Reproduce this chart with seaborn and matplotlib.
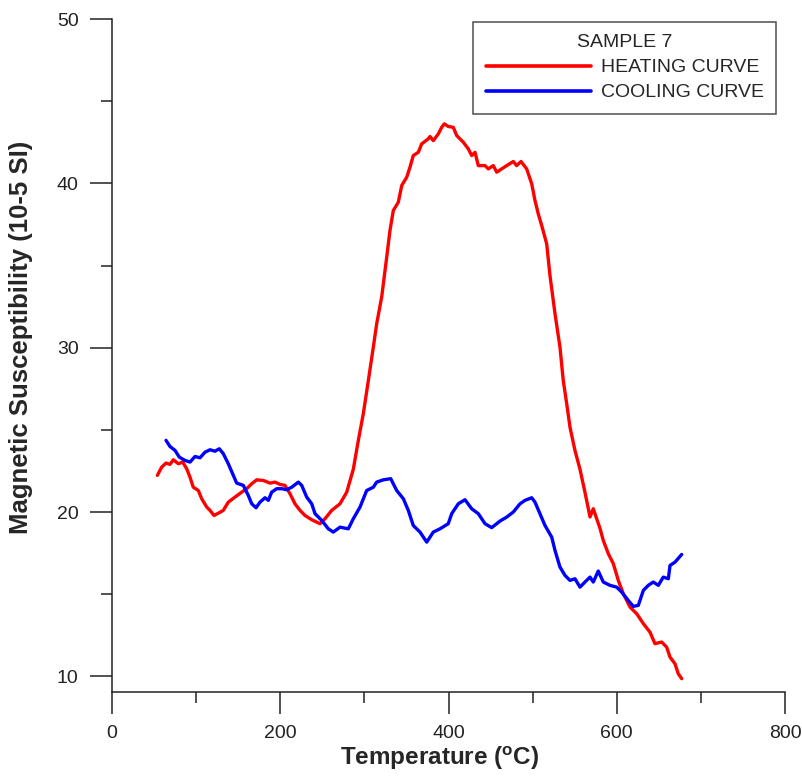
import pandas as pd
import matplotlib
matplotlib.use("Agg")
import matplotlib.pyplot as plt
import seaborn as sns
from matplotlib.ticker import MultipleLocator
from matplotlib.lines import Line2D

# heating curve
heat_t = [53.9, 59.0, 64.2, 68.9, 72.9, 78.8, 84.0, 88.8, 92.7, 96.6, 102.6,
          106.6, 112.6, 116.5, 121.2, 126.4, 132.3, 138.2, 146.2, 154.2, 160.1,
          166.1, 172.0, 179.9, 187.8, 193.7, 199.7, 205.6, 211.6, 217.5, 223.5,
          229.4, 237.4, 247.2, 253.2, 261.1, 271.0, 279.0, 286.8, 292.8, 298.7,
          304.7, 310.6, 314.6, 320.6, 326.5, 330.4, 334.4, 340.3, 344.4, 350.3,
          354.2, 358.1, 364.1, 368.1, 376.0, 378.0, 381.9, 387.9, 391.9, 395.0,
          399.7, 405.7, 409.7, 417.6, 423.5, 427.6, 431.5, 435.4, 443.4, 447.3,
          453.2, 457.3, 463.2, 469.2, 477.0, 481.0, 486.2, 492.9, 498.9, 502.8,
          506.7, 510.8, 516.7, 520.6, 526.6, 532.5, 536.4, 540.5, 544.4, 550.3,
          556.3, 562.2, 566.2, 568.2, 572.1, 580.1, 584.0, 590.0, 595.9, 601.8,
          607.8, 615.7, 623.7, 631.6, 639.5, 645.4, 653.4, 659.3, 663.3, 669.2,
          673.1, 677.2]
heat_k = [22.23, 22.73, 22.98, 22.90, 23.18, 22.94, 23.04, 22.63, 22.12, 21.51,
          21.31, 20.81, 20.30, 20.10, 19.79, 19.93, 20.10, 20.60, 20.91, 21.21,
          21.42, 21.72, 21.96, 21.92, 21.76, 21.82, 21.68, 21.62, 21.11, 20.50,
          20.10, 19.79, 19.53, 19.29, 19.59, 20.10, 20.50, 21.21, 22.60, 24.36,
          25.98, 28.00, 30.03, 31.45, 33.10, 35.50, 37.13, 38.35, 38.85, 39.87,
          40.37, 40.98, 41.69, 41.89, 42.40, 42.71, 42.85, 42.60, 43.01, 43.41,
          43.62, 43.46, 43.41, 42.91, 42.50, 42.10, 41.69, 41.89, 41.08, 41.08,
          40.88, 41.08, 40.68, 40.88, 41.08, 41.33, 41.08, 41.33, 40.88, 39.97,
          38.95, 38.14, 37.43, 36.32, 34.40, 32.06, 30.03, 28.00, 26.59, 25.16,
          23.75, 22.60, 21.20, 20.20, 19.70, 20.20, 19.00, 18.27, 17.46, 16.86,
          15.84, 15.03, 14.22, 13.81, 13.21, 12.69, 11.99, 12.09, 11.78, 11.17,
          10.77, 10.16, 9.86]

# cooling curve
cool_t = [64.2, 68.9, 74.9, 80.0, 86.8, 92.7, 98.7, 104.6, 110.5, 116.5, 122.4,
          127.5, 132.3, 138.2, 144.2, 148.2, 156.1, 162.0, 166.1, 171.2, 175.9,
          181.9, 185.8, 189.8, 195.8, 201.7, 207.7, 213.6, 221.5, 225.5, 231.4,
          237.4, 241.3, 249.3, 257.1, 263.0, 271.0, 280.9, 286.8, 294.8, 302.7,
          310.6, 314.6, 322.5, 331.3, 338.4, 346.3, 352.2, 358.1, 366.1, 374.1,
          381.9, 389.9, 399.7, 403.8, 411.6, 419.6, 427.5, 435.4, 443.4, 451.3,
          461.2, 469.1, 477.0, 485.0, 490.9, 498.9, 502.8, 508.7, 514.7, 522.7,
          526.6, 532.5, 538.5, 544.4, 550.3, 556.3, 562.2, 568.2, 572.1, 578.0,
          584.0, 591.9, 599.9, 605.8, 613.7, 619.6, 625.6, 631.6, 637.5, 643.4,
          649.4, 655.3, 661.3, 663.3, 669.2, 677.2]
cool_k = [24.36, 23.99, 23.75, 23.34, 23.14, 23.04, 23.38, 23.30, 23.64, 23.79,
          23.70, 23.85, 23.55, 22.94, 22.23, 21.76, 21.62, 21.01, 20.50, 20.26,
          20.60, 20.87, 20.71, 21.21, 21.42, 21.42, 21.36, 21.51, 21.82, 21.62,
          20.91, 20.50, 19.90, 19.49, 18.98, 18.78, 19.08, 18.98, 19.59, 20.30,
          21.31, 21.51, 21.82, 21.96, 22.03, 21.31, 20.81, 20.10, 19.18, 18.78,
          18.17, 18.78, 18.98, 19.29, 19.90, 20.50, 20.75, 20.20, 19.90, 19.29,
          19.05, 19.45, 19.69, 20.00, 20.50, 20.71, 20.87, 20.60, 19.90, 19.18,
          18.47, 17.66, 16.65, 16.14, 15.84, 15.94, 15.43, 15.74, 16.04, 15.74,
          16.41, 15.74, 15.54, 15.43, 15.13, 14.62, 14.26, 14.32, 15.23, 15.54,
          15.74, 15.54, 16.04, 15.94, 16.75, 16.95, 17.42]

df = pd.concat([
    pd.DataFrame({"T": heat_t, "K": heat_k, "curve": "HEATING CURVE"}),
    pd.DataFrame({"T": cool_t, "K": cool_k, "curve": "COOLING CURVE"}),
])

sns.set_style("white")
plt.rcParams["font.family"] = ["Liberation Sans", "DejaVu Sans"]
plt.rcParams["mathtext.fontset"] = "custom"
plt.rcParams["mathtext.rm"] = "Liberation Sans:bold"

fig = plt.figure(figsize=(8.03, 7.79), dpi=100)
ax = fig.add_axes([0.1395, 0.1117, 0.8381, 0.8639])

colors = {"HEATING CURVE": "#ff0000", "COOLING CURVE": "#0000ff"}
sns.lineplot(data=df, x="T", y="K", hue="curve", palette=colors, sort=False,
             estimator=None, linewidth=2.4, ax=ax, legend=False)

ax.set_xlim(0, 800)
ax.set_ylim(9.05, 50)
ax.xaxis.set_major_locator(MultipleLocator(200))
ax.xaxis.set_minor_locator(MultipleLocator(100))
ax.yaxis.set_minor_locator(MultipleLocator(5))
ax.set_yticks([10, 20, 30, 40, 50])
ax.tick_params(which="major", direction="out", length=16, width=1.1,
               labelsize=14, color="#222222", labelcolor="#222222")
ax.tick_params(axis="x", which="major", pad=8)
ax.tick_params(axis="y", which="major", pad=8)
ax.tick_params(which="minor", direction="out", length=8, width=1.1,
               color="#222222")
ax.tick_params(bottom=True, left=True, which="both")

for s in ["top", "right"]:
    ax.spines[s].set_visible(False)
for s in ["left", "bottom"]:
    ax.spines[s].set_color("#222222")
    ax.spines[s].set_linewidth(1.1)

ax.set_xlabel(r"Temperature ($\mathrm{^{o}}$C)", fontsize=17.5,
              fontweight="bold")
ax.set_ylabel("Magnetic Susceptibility (10-5 SI)", fontsize=18.5,
              fontweight="bold")
ax.xaxis.set_label_coords(0.487, -0.079)
ax.yaxis.set_label_coords(-0.118, 0.527)

handles = [Line2D([], [], color=colors[k], linewidth=2.6) for k in colors]
leg = ax.legend(handles, list(colors), title="SAMPLE 7", loc="upper right",
                bbox_to_anchor=(0.987, 0.996), fontsize=14, title_fontsize=14,
                fancybox=False, frameon=True, handlelength=5.4,
                handletextpad=0.5, borderpad=0.65, labelspacing=0.38,
                borderaxespad=0)
leg.get_frame().set_edgecolor("#222222")
leg.get_frame().set_linewidth(1.1)

fig.savefig("out.png", dpi=100)
